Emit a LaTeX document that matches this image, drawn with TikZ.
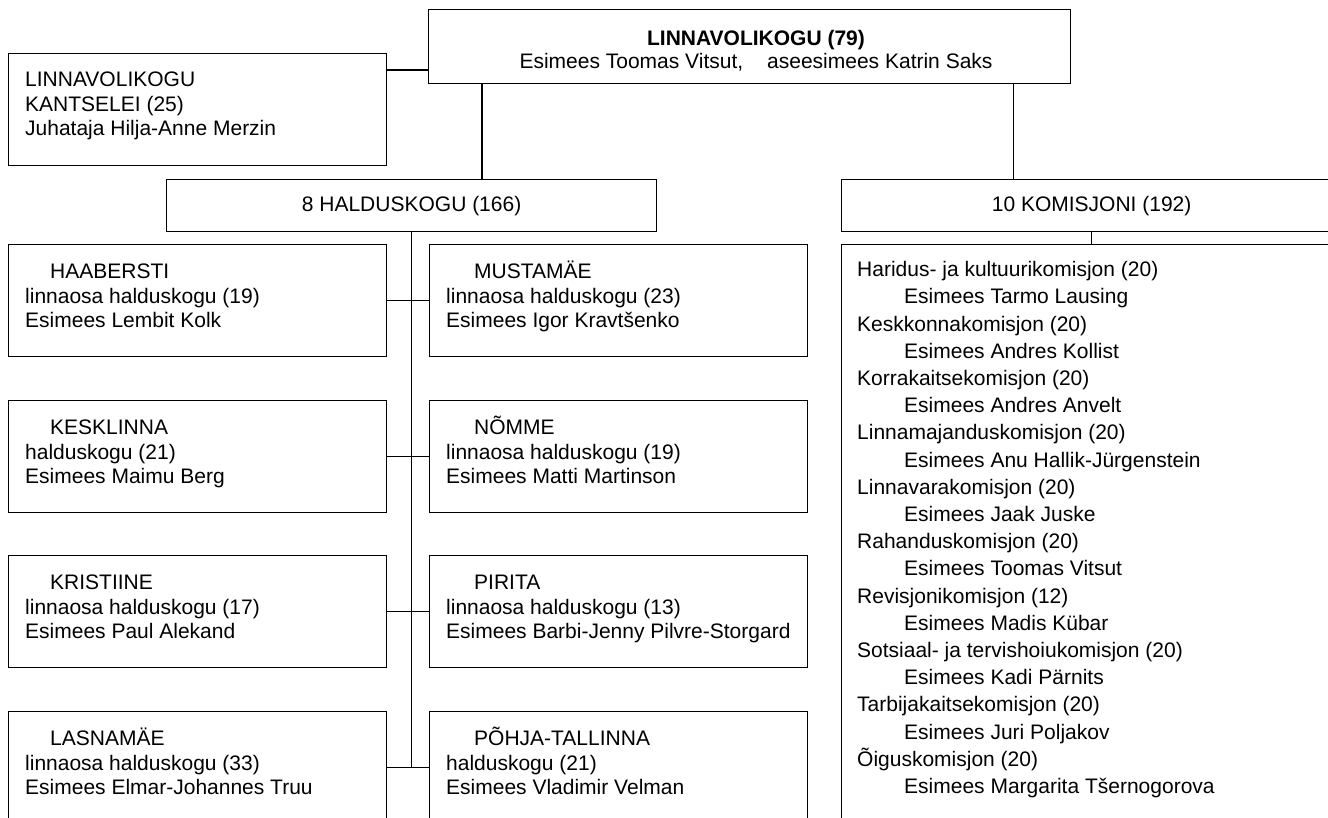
\documentclass[tikz,border=0pt]{standalone}
\usepackage{fontspec}
\setmainfont{Liberation Sans}
\usetikzlibrary{calc}
\newcommand\myst{\rule{0pt}{20pt}}
\newcommand\fs{\fontsize{21pt}{24.6pt}\selectfont}
\newcommand\fsl{\fontsize{21pt}{27.2pt}\selectfont}
\begin{document}
\begin{tikzpicture}[x=1pt,y=-1pt,
  box/.style={draw, line width=1.2pt, anchor=north west, inner sep=0pt, minimum width=378pt, minimum height=112pt},
  txt/.style={anchor=north west, align=left, inner sep=0pt, font=\fs},
  conn/.style={line width=1.2pt}]
\useasboundingbox (0,0) rectangle (1328,818);
\clip (0,0) rectangle (1328,818);
% top
\node[box, minimum width=642pt, minimum height=74pt] (top) at (428,9) {};
\node[anchor=north, align=center, inner sep=0pt, font=\fontsize{21pt}{23pt}\selectfont] (toptxt) at (756,25) {\myst\textbf{LINNAVOLIKOGU (79)}\\Esimees Toomas Vitsut,\hspace*{24pt}aseesimees Katrin Saks};
% kantselei
\node[box] (kant) at (8,53) {};
\node[txt] (kanttxt) at (25,66.5) {\myst LINNAVOLIKOGU\\KANTSELEI (25)\\Juhataja Hilja-Anne Merzin};
% second level
\node[box, minimum width=490pt, minimum height=52pt, font=\fs] (hald) at (166,179) {8 HALDUSKOGU (166)};
\node[box, minimum width=500pt, minimum height=52pt, font=\fs] (komi) at (841,179) {10 KOMISJONI (192)};
\node[box, minimum width=500pt, minimum height=600pt] (list) at (841,244) {};
\node[txt, font=\fsl] (listtxt) at (857,256.5) {\myst Haridus- ja kultuurikomisjon (20)\\
\hspace*{47pt}Esimees Tarmo Lausing\\
Keskkonnakomisjon (20)\\
\hspace*{47pt}Esimees Andres Kollist\\
Korrakaitsekomisjon (20)\\
\hspace*{47pt}Esimees Andres Anvelt\\
Linnamajanduskomisjon (20)\\
\hspace*{47pt}Esimees Anu Hallik-Jürgenstein\\
Linnavarakomisjon (20)\\
\hspace*{47pt}Esimees Jaak Juske\\
Rahanduskomisjon (20)\\
\hspace*{47pt}Esimees Toomas Vitsut\\
Revisjonikomisjon (12)\\
\hspace*{47pt}Esimees Madis Kübar\\
Sotsiaal- ja tervishoiukomisjon (20)\\
\hspace*{47pt}Esimees Kadi Pärnits\\
Tarbijakaitsekomisjon (20)\\
\hspace*{47pt}Esimees Juri Poljakov\\
Õiguskomisjon (20)\\
\hspace*{47pt}Esimees Margarita Tšernogorova};
% district boxes
\node[box] (l1) at (8,244) {};
\node[box] (r1) at (429,244) {};
\node[box] (l2) at (8,400) {};
\node[box] (r2) at (429,400) {};
\node[box] (l3) at (8,555) {};
\node[box] (r3) at (429,555) {};
\node[box] (l4) at (8,711) {};
\node[box] (r4) at (429,711) {};
\node[txt] (l1t) at (25,258.5) {\myst\hspace*{25pt}HAABERSTI\\linnaosa halduskogu (19)\\Esimees Lembit Kolk};
\node[txt] (r1t) at (446,258.5) {\myst\hspace*{28pt}MUSTAMÄE\\linnaosa halduskogu (23)\\Esimees Igor Kravtšenko};
\node[txt] (l2t) at (25,414.5) {\myst\hspace*{25pt}KESKLINNA\\halduskogu (21)\\Esimees Maimu Berg};
\node[txt] (r2t) at (446,414.5) {\myst\hspace*{28pt}NÕMME\\linnaosa halduskogu (19)\\Esimees Matti Martinson};
\node[txt] (l3t) at (25,569.5) {\myst\hspace*{25pt}KRISTIINE\\linnaosa halduskogu (17)\\Esimees Paul Alekand};
\node[txt] (r3t) at (446,569.5) {\myst\hspace*{28pt}PIRITA\\linnaosa halduskogu (13)\\Esimees Barbi-Jenny Pilvre-Storgard};
\node[txt] (l4t) at (25,725.5) {\myst\hspace*{25pt}LASNAMÄE\\linnaosa halduskogu (33)\\Esimees Elmar-Johannes Truu};
\node[txt] (r4t) at (446,725.5) {\myst\hspace*{28pt}PÕHJA-TALLINNA\\halduskogu (21)\\Esimees Vladimir Velman};
% connectors
\coordinate (jk) at ($(top.north west)!0.81!(top.south west)$);
\draw[conn] (kant.east |- jk) -- (jk);
\coordinate (jh) at ($(top.south west)+(54,0)$);
\draw[conn] (jh) -- (jh |- hald.north);
\coordinate (jc) at ($(top.south east)+(-58,0)$);
\draw[conn] (jc) -- (jc |- komi.north);
\draw[conn] (komi.south) -- (list.north);
\draw[conn] (hald.south) -- (hald.south |- l4.east);
\foreach \i in {1,2,3,4} {\draw[conn] (l\i.east) -- (r\i.west);}
\end{tikzpicture}
\end{document}
